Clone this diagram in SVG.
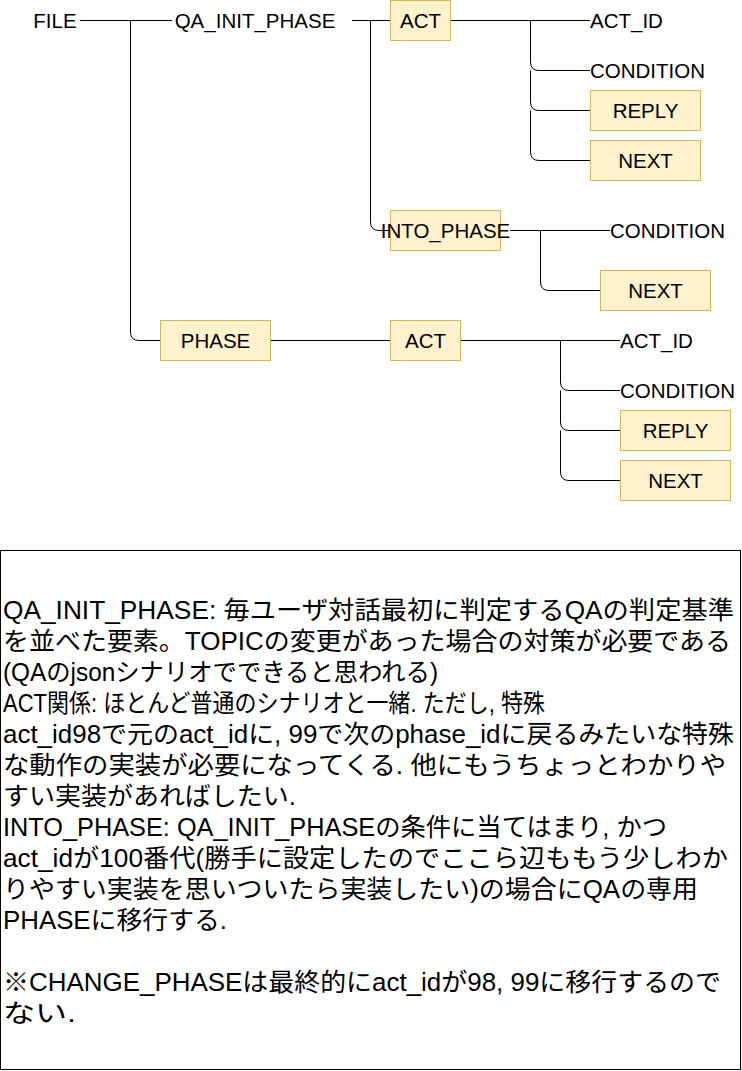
<svg xmlns="http://www.w3.org/2000/svg" width="742" height="1071" viewBox="0 0 742 1071">
<style>
.lbl{font-family:"Liberation Sans",Arial,sans-serif;font-size:20.5px;fill:#000;}
.mid{text-anchor:middle;}
.box{fill:#fff2cc;stroke:#d6b656;stroke-width:1;}
.edge{fill:none;stroke:#000;stroke-width:1;}
.note{font-family:"Liberation Sans Narrow","Liberation Sans","Noto Sans CJK JP",sans-serif;font-size:25px;fill:#000;}
</style>
<rect width="742" height="1071" fill="#fff"/>
<g id="connectors">
<path class="edge" d="M80,20.5 L172,20.5"/>
<path class="edge" d="M130.5,20.5 L130.5,332 Q130.5,340.5 139,340.5 L160,340.5"/>
<path class="edge" d="M352,20.5 L390,20.5"/>
<path class="edge" d="M370.5,20.5 L370.5,222 Q370.5,230.5 379,230.5 L390,230.5"/>
<path class="edge" d="M450,20.5 L590,20.5"/>
<path class="edge" d="M530.5,20.5 L530.5,62 Q530.5,70.5 539,70.5 L590,70.5"/>
<path class="edge" d="M530.5,70.5 L530.5,102 Q530.5,110.5 539,110.5 L590,110.5"/>
<path class="edge" d="M530.5,110.5 L530.5,152 Q530.5,160.5 539,160.5 L590,160.5"/>
<path class="edge" d="M510,230.5 L610,230.5"/>
<path class="edge" d="M540.5,230.5 L540.5,282 Q540.5,290.5 549,290.5 L600,290.5"/>
<path class="edge" d="M270,340.5 L390,340.5"/>
<path class="edge" d="M460,340.5 L620,340.5"/>
<path class="edge" d="M560.5,340.5 L560.5,382 Q560.5,390.5 569,390.5 L620,390.5"/>
<path class="edge" d="M560.5,390.5 L560.5,422 Q560.5,430.5 569,430.5 L620,430.5"/>
<path class="edge" d="M560.5,430.5 L560.5,472 Q560.5,480.5 569,480.5 L620,480.5"/>
</g>
<g id="file"><text class="lbl mid" x="55" y="27.5">FILE</text></g>
<g id="qa_init_phase"><text class="lbl mid" x="255" y="27.5">QA_INIT_PHASE</text></g>
<g id="act1"><rect class="box" x="390.5" y="0.5" width="60" height="40"/><text class="lbl mid" x="420.5" y="27.5">ACT</text></g>
<g id="act_id1"><text class="lbl" x="590" y="27.5">ACT_ID</text></g>
<g id="condition1"><text class="lbl" x="590" y="77.5">CONDITION</text></g>
<g id="reply1"><rect class="box" x="590.5" y="90.5" width="110" height="40"/><text class="lbl mid" x="645.5" y="117.5">REPLY</text></g>
<g id="next1"><rect class="box" x="590.5" y="140.5" width="110" height="40"/><text class="lbl mid" x="645.5" y="167.5">NEXT</text></g>
<g id="into_phase"><rect class="box" x="390.5" y="210.5" width="110" height="40"/><text class="lbl mid" x="445.5" y="237.5">INTO_PHASE</text></g>
<g id="condition2"><text class="lbl" x="610" y="237.5">CONDITION</text></g>
<g id="next2"><rect class="box" x="600.5" y="270.5" width="110" height="40"/><text class="lbl mid" x="655.5" y="297.5">NEXT</text></g>
<g id="phase"><rect class="box" x="160.5" y="320.5" width="110" height="40"/><text class="lbl mid" x="215.5" y="347.5">PHASE</text></g>
<g id="act2"><rect class="box" x="390.5" y="320.5" width="70" height="40"/><text class="lbl mid" x="425.5" y="347.5">ACT</text></g>
<g id="act_id2"><text class="lbl" x="620" y="347.5">ACT_ID</text></g>
<g id="condition3"><text class="lbl" x="620" y="397.5">CONDITION</text></g>
<g id="reply2"><rect class="box" x="620.5" y="410.5" width="110" height="40"/><text class="lbl mid" x="675.5" y="437.5">REPLY</text></g>
<g id="next3"><rect class="box" x="620.5" y="460.5" width="110" height="40"/><text class="lbl mid" x="675.5" y="487.5">NEXT</text></g>
<g id="note">
<rect x="0.5" y="550.5" width="740" height="519" fill="#fff" stroke="#000" stroke-width="1"/>
<text class="note" x="3" y="619" textLength="731" lengthAdjust="spacingAndGlyphs">QA_INIT_PHASE: 毎ユーザ対話最初に判定するQAの判定基準</text>
<text class="note" x="3" y="650" textLength="728" lengthAdjust="spacingAndGlyphs">を並べた要素。TOPICの変更があった場合の対策が必要である</text>
<text class="note" x="3" y="681" textLength="435" lengthAdjust="spacingAndGlyphs">(QAのjsonシナリオでできると思われる)</text>
<text class="note" x="3" y="712" textLength="542" lengthAdjust="spacingAndGlyphs">ACT関係: ほとんど普通のシナリオと一緒. ただし, 特殊</text>
<text class="note" x="3" y="743" textLength="731" lengthAdjust="spacingAndGlyphs">act_id98で元のact_idに, 99で次のphase_idに戻るみたいな特殊</text>
<text class="note" x="3" y="774" textLength="723" lengthAdjust="spacingAndGlyphs">な動作の実装が必要になってくる. 他にもうちょっとわかりや</text>
<text class="note" x="3" y="805" textLength="293" lengthAdjust="spacingAndGlyphs">すい実装があればしたい.</text>
<text class="note" x="3" y="836" textLength="664" lengthAdjust="spacingAndGlyphs">INTO_PHASE: QA_INIT_PHASEの条件に当てはまり, かつ</text>
<text class="note" x="3" y="867" textLength="725" lengthAdjust="spacingAndGlyphs">act_idが100番代(勝手に設定したのでここら辺ももう少しわか</text>
<text class="note" x="3" y="898" textLength="695" lengthAdjust="spacingAndGlyphs">りやすい実装を思いついたら実装したい)の場合にQAの専用</text>
<text class="note" x="3" y="929" textLength="224" lengthAdjust="spacingAndGlyphs">PHASEに移行する.</text>
<text class="note" x="3" y="991" textLength="718" lengthAdjust="spacingAndGlyphs">※CHANGE_PHASEは最終的にact_idが98, 99に移行するので</text>
<text class="note" x="3" y="1022" textLength="73" lengthAdjust="spacingAndGlyphs">ない.</text>
</g>
</svg>
